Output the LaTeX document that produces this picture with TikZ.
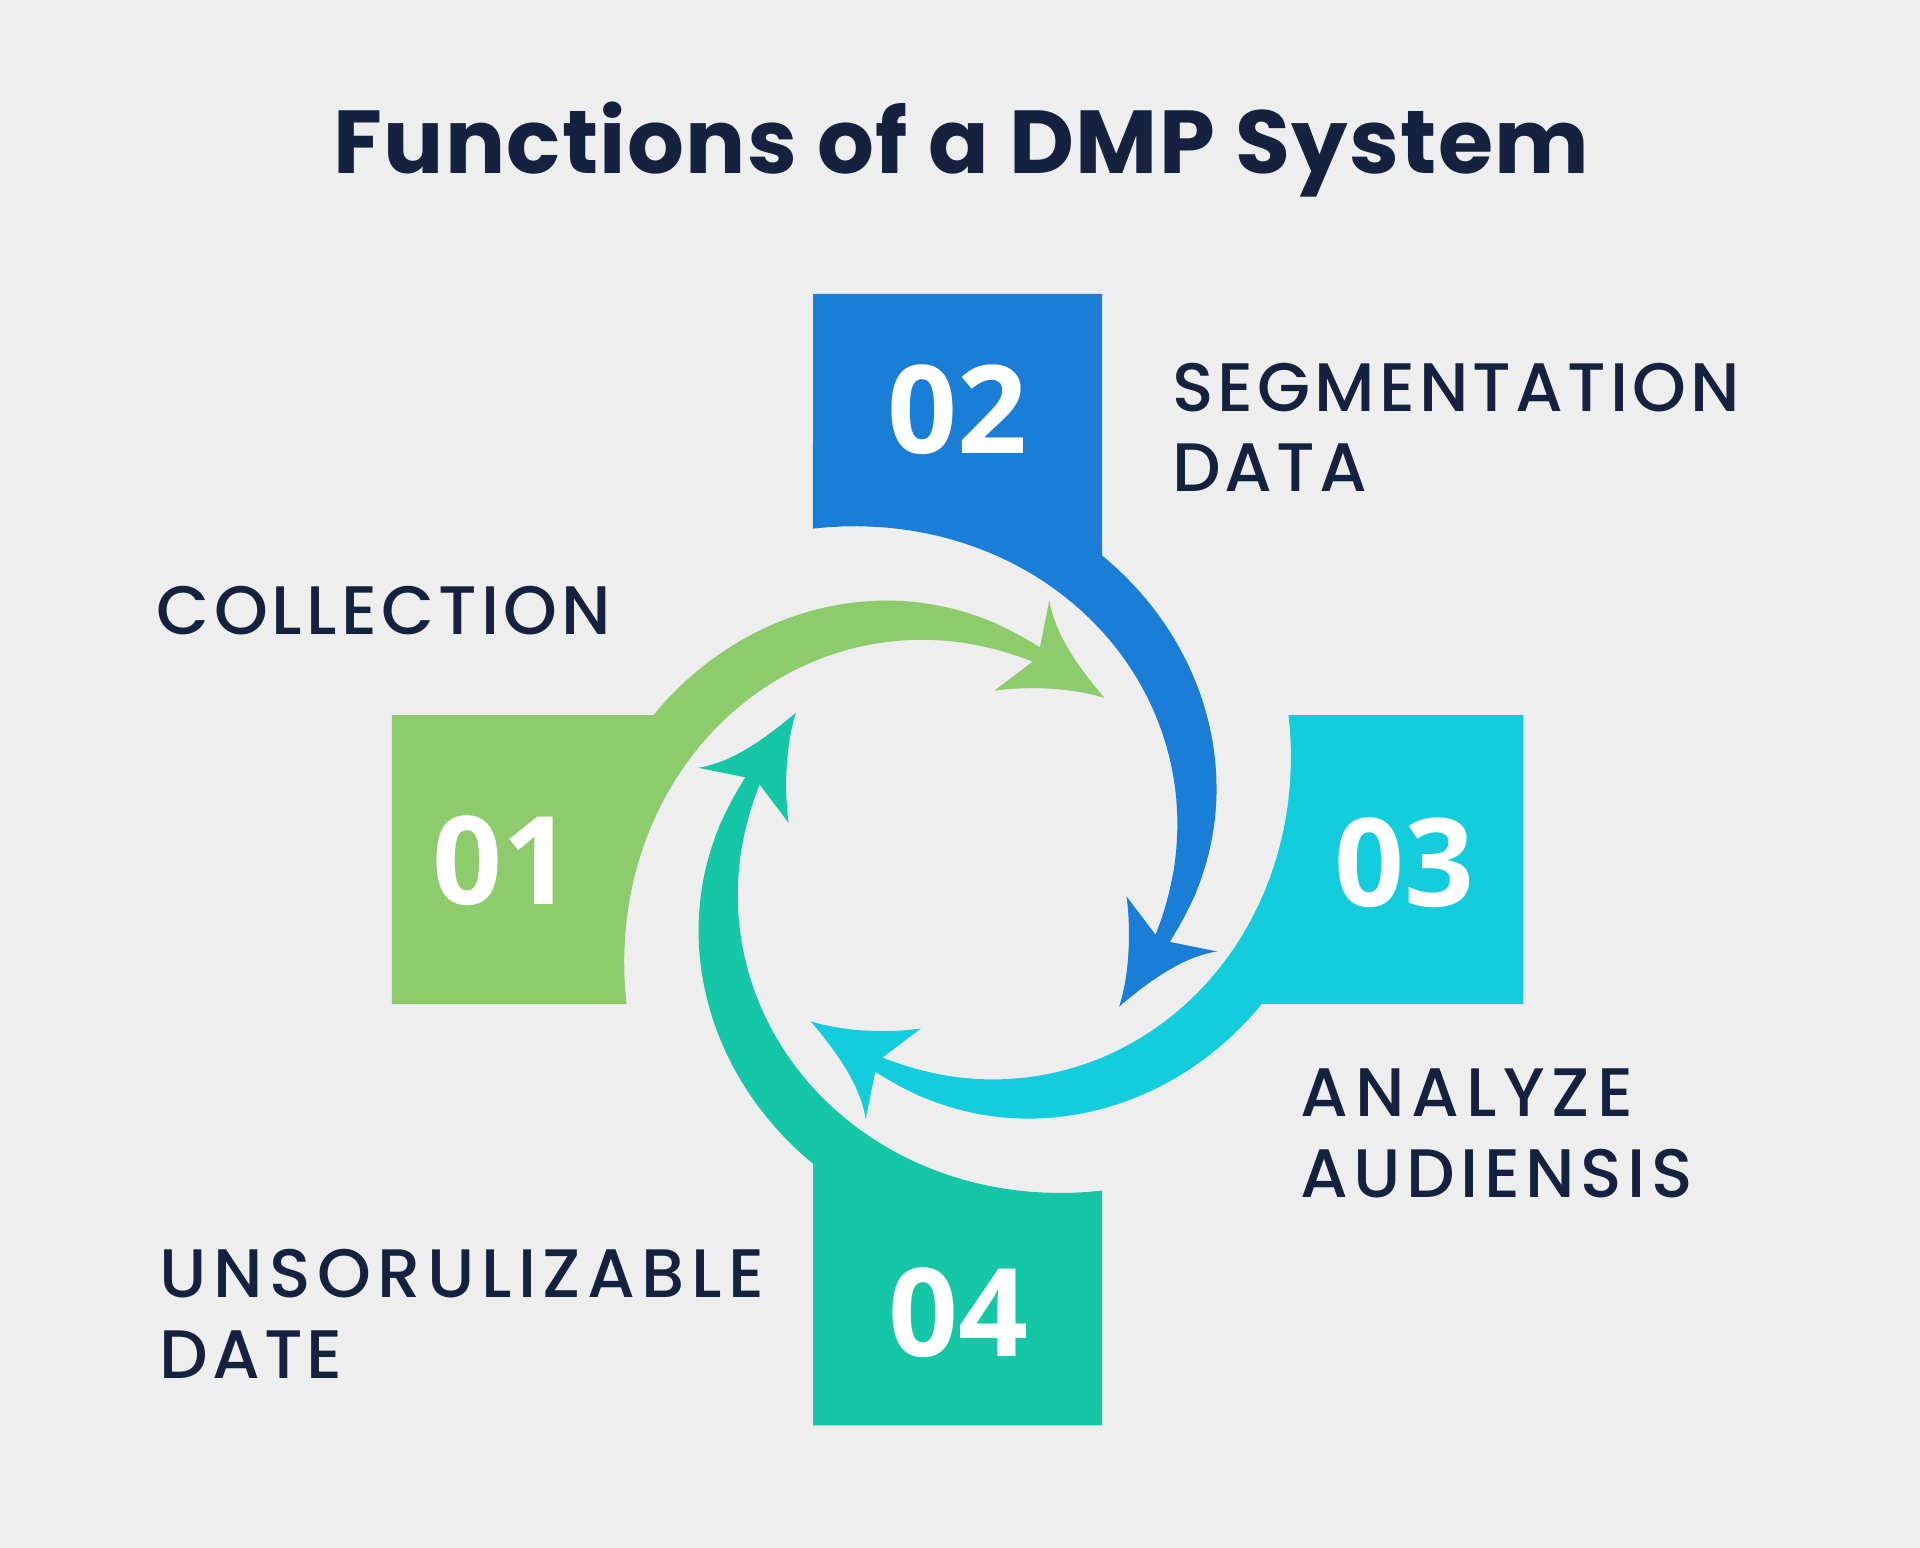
\documentclass[tikz,border=0pt]{standalone}
\usepackage{fontspec}
\setmainfont{Poppins}
\newfontfamily\numfont{Open Sans}
\IfFontExistsTF{Poppins Medium}{\newfontfamily\labfont{Poppins Medium}[LetterSpace=6]}{\newfontfamily\labfont{Poppins}[LetterSpace=6,FakeBold=1.2]}
\newfontfamily\titlefont{Poppins}[LetterSpace=1.5]
\definecolor{bg}{HTML}{EEEEEE}
\definecolor{navy}{HTML}{14213F}
\definecolor{cgreen}{HTML}{8DCB6D}
\definecolor{cblue}{HTML}{1A7ED7}
\definecolor{ccyan}{HTML}{14CDDC}
\definecolor{cteal}{HTML}{15C7A6}
\tikzset{declare function={ro(\t)=186+89*abs((-68.8-\t)/85.8)^1.15; ri(\t)=173+122*abs((-69.2-\t)/134.4)^1.75;}}
\newcommand{\cycpiece}{(-462,-118) -- (-249,-118)
  -- plot[domain=-154.6:-68.8, samples=50, variable=\t] ({ro(\t)*cos(\t)}, {ro(\t)*sin(\t)})
  -- (75,-212) .. controls (79,-185) and (98,-158) .. (120,-132)
  .. controls (95,-140) and (60,-142) .. (30,-138)
  -- plot[domain=-69.2:-203.6, samples=60, variable=\t] ({ri(\t)*cos(\t)}, {ri(\t)*sin(\t)})
  -- (-462,118) -- cycle}
\tikzset{
  numtxt/.style={text=white, font=\numfont\bfseries\fontsize{100}{100}\selectfont, anchor=base, inner sep=0pt},
  labtxt/.style={text=navy, font=\labfont\fontsize{56}{66}\selectfont, anchor=base west, inner sep=0pt},
}
\begin{document}
\begin{tikzpicture}[x=1pt,y=-1pt]
\fill[bg] (0,0) rectangle (1568,1264);
\useasboundingbox (0,0) rectangle (1568,1264);
\foreach \ang/\col in {0/cgreen,-90/cblue,-180/ccyan,-270/cteal}{
  \begin{scope}[shift={(782,702)}, rotate=\ang]
    \fill[\col] \cycpiece;
  \end{scope}
}
\node[text=navy, font=\titlefont\bfseries\fontsize{73}{73}\selectfont, anchor=base, inner sep=0pt] (title) at (785,142) {Functions of a DMP System};
\node[numtxt] (n1) at (410,739) {01};
\node[numtxt] (n2) at (782,370) {02};
\node[numtxt] (n3) at (1147,740) {03};
\node[numtxt] (n4) at (783,1108) {04};
\node[labtxt] (l1) at (128,518) {COLLECTION};
\node[labtxt] (l2a) at (957,336) {SEGMENTATION};
\node[labtxt] (l2b) at (957,401) {DATA};
\node[labtxt] (l3a) at (1062,912) {\addfontfeature{LetterSpace=10}ANALYZE};
\node[labtxt] (l3b) at (1062,978) {\addfontfeature{LetterSpace=8}AUDIENSIS};
\node[labtxt] (l4a) at (130,1060) {\addfontfeature{LetterSpace=9.5}UNSORULIZABLE};
\node[labtxt] (l4b) at (130,1126) {DATE};
\end{tikzpicture}
\end{document}
